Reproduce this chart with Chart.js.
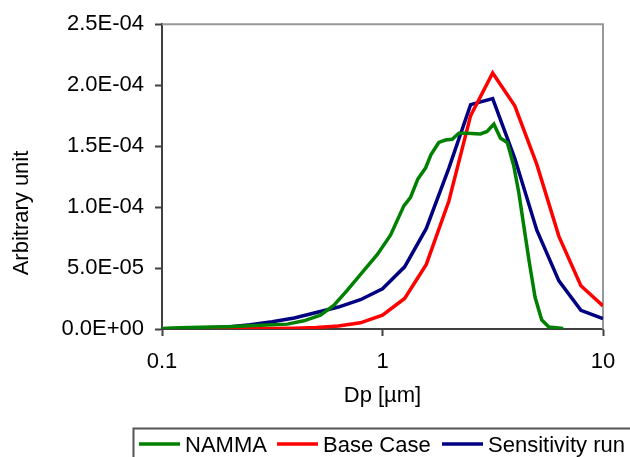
<!DOCTYPE html>
<html><head><meta charset="utf-8">
<script src="https://cdn.jsdelivr.net/npm/chart.js@4"></script>
<style>html,body{margin:0;padding:0;background:#fff;overflow:hidden}#wrap{width:630px;height:457px;position:relative}</style>
</head><body><div id="wrap"><canvas id="c" width="630" height="457"></canvas></div>
<script>
// ---- data ----
const nammaDp  = [0.1, 0.12, 0.15, 0.198, 0.28, 0.37, 0.44, 0.523, 0.601, 0.69, 0.82, 0.946, 1.087, 1.25, 1.34, 1.446, 1.567, 1.66, 1.8, 1.93, 2.07, 2.22, 2.42, 2.78, 2.98, 3.2, 3.43, 3.68, 3.94, 4.15, 4.37, 4.62, 4.92, 5.27, 5.68, 6.6];
const nammaVal = [5e-7, 1.0e-6, 1.5e-6, 1.9e-6, 3.0e-6, 4.0e-6, 6.7e-6, 1.13e-5, 1.94e-5, 3.15e-5, 4.76e-5, 6.1e-5, 7.7e-5, 1.01e-4, 1.08e-4, 1.23e-4, 1.32e-4, 1.43e-4, 1.53e-4, 1.55e-4, 1.556e-4, 1.605e-4, 1.605e-4, 1.60e-4, 1.62e-4, 1.68e-4, 1.565e-4, 1.53e-4, 1.336e-4, 1.12e-4, 8.5e-5, 5.6e-5, 2.6e-5, 7.5e-6, 1.6e-6, 5e-7];
const modelDp  = [0.1, 0.126, 0.158, 0.2, 0.251, 0.316, 0.398, 0.501, 0.631, 0.794, 1.0, 1.26, 1.58, 2.0, 2.51, 3.16, 3.98, 5.01, 6.31, 7.94, 10];
const baseVal  = [0, 0, 0, 1e-7, 2e-7, 4e-7, 7e-7, 1.2e-6, 2.4e-6, 5.1e-6, 1.13e-5, 2.5e-5, 5.3e-5, 1.05e-4, 1.75e-4, 2.10e-4, 1.83e-4, 1.35e-4, 7.6e-5, 3.55e-5, 1.9e-5];
const sensVal  = [3e-7, 5e-7, 1.0e-6, 1.6e-6, 3.5e-6, 6.0e-6, 9.0e-6, 1.35e-5, 1.8e-5, 2.4e-5, 3.3e-5, 5.1e-5, 8.25e-5, 1.32e-4, 1.84e-4, 1.89e-4, 1.40e-4, 8.1e-5, 3.95e-5, 1.53e-5, 8.6e-6];
const seriesNames  = ['NAMMA', 'Base Case', 'Sensitivity run'];
const seriesColors = ['#008000', '#ff0000', '#000080'];
const xTickValues = [0.1, 1, 10];
const xTickLabels = ['0.1', '1', '10'];
const yTickValues = [0, 5e-5, 1e-4, 1.5e-4, 2e-4, 2.5e-4];
const yTickLabels = ['0.0E+00', '5.0E-05', '1.0E-04', '1.5E-04', '2.0E-04', '2.5E-04'];
const xTitle = 'Dp [µm]';
const yTitle = 'Arbitrary unit';

const FONT = "'Liberation Sans', Arial, sans-serif";
const FS = 22;
const LW = 3.5;
const pts = (xs, ys) => xs.map((x, i) => ({x: x, y: ys[i]}));

const decor = {
  id: 'decor',
  beforeDatasetsDraw(chart) {
    const {ctx, chartArea: a} = chart;
    ctx.save();
    ctx.strokeStyle = '#999';
    ctx.lineWidth = 2;
    ctx.beginPath();
    ctx.moveTo(a.left, a.top);
    ctx.lineTo(a.right, a.top);
    ctx.lineTo(a.right, a.bottom);
    ctx.stroke();
    ctx.restore();
  },
  afterDraw(chart) {
    const ctx = chart.ctx;
    ctx.save();
    // y-axis title
    ctx.font = FS + 'px ' + FONT;
    ctx.fillStyle = '#000';
    ctx.translate(21.5, 213);
    ctx.rotate(-Math.PI / 2);
    ctx.textAlign = 'center';
    ctx.textBaseline = 'middle';
    ctx.fillText(yTitle, 0, 0);
    ctx.restore();
    // legend
    ctx.save();
    ctx.strokeStyle = '#555';
    ctx.lineWidth = 2;
    ctx.strokeRect(133.5, 428.5, 540, 60);
    const starts = [139, 277, 442];
    ctx.font = FS + 'px ' + FONT;
    ctx.textAlign = 'left';
    ctx.textBaseline = 'middle';
    chart.data.datasets.forEach((ds, i) => {
      const x = starts[i];
      ctx.strokeStyle = ds.borderColor;
      ctx.lineWidth = LW;
      ctx.beginPath();
      ctx.moveTo(x, 444);
      ctx.lineTo(x + 41, 444);
      ctx.stroke();
      ctx.fillStyle = '#000';
      ctx.fillText(ds.label, x + 46, 445.5);
    });
    ctx.restore();
  }
};

const axisGrid = {drawOnChartArea: false, drawTicks: true, tickLength: 7, tickColor: '#404040', tickWidth: 2};
const axisBorder = {display: true, color: '#404040', width: 2};

new Chart(document.getElementById('c'), {
  type: 'line',
  data: {
    datasets: [
      {label: seriesNames[0], data: pts(nammaDp, nammaVal), borderColor: seriesColors[0], backgroundColor: seriesColors[0], borderWidth: LW},
      {label: seriesNames[1], data: pts(modelDp, baseVal), borderColor: seriesColors[1], backgroundColor: seriesColors[1], borderWidth: LW},
      {label: seriesNames[2], data: pts(modelDp, sensVal), borderColor: seriesColors[2], backgroundColor: seriesColors[2], borderWidth: LW}
    ]
  },
  options: {
    responsive: false,
    animation: false,
    devicePixelRatio: 1,
    layout: {padding: {top: 19, right: 27, left: 0, bottom: 0}},
    plugins: {legend: {display: false}, tooltip: {enabled: false}},
    elements: {point: {radius: 0}, line: {tension: 0, borderWidth: LW, fill: false}},
    scales: {
      x: {
        type: 'logarithmic', min: 0.1, max: 10,
        afterBuildTicks: s => { s.ticks = xTickValues.map(v => ({value: v})); },
        afterFit: s => { s.height = 128; },
        ticks: {callback: (v, i) => xTickLabels[i], padding: 13, maxRotation: 0, autoSkip: false, color: '#000', font: {family: FONT, size: FS}},
        grid: axisGrid,
        border: axisBorder,
        title: {display: true, text: xTitle, color: '#000', font: {family: FONT, size: FS}, padding: {top: 0, bottom: 48}}
      },
      y: {
        type: 'linear', min: 0, max: 2.5e-4,
        afterBuildTicks: s => { s.ticks = yTickValues.map(v => ({value: v})); },
        afterFit: s => { s.width = 162; },
        ticks: {callback: (v, i) => yTickLabels[i], padding: 11, color: '#000', font: {family: FONT, size: FS}},
        grid: axisGrid,
        border: axisBorder
      }
    }
  },
  plugins: [decor]
});
</script>
</body></html>
